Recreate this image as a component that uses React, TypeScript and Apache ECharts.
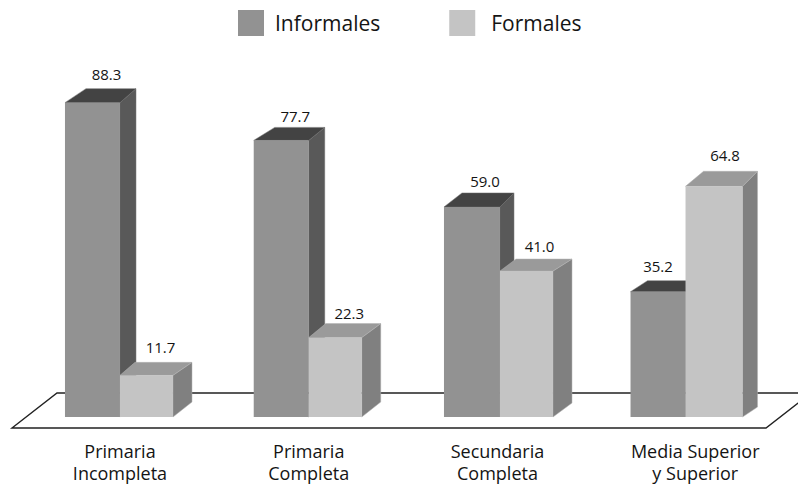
import React, { useEffect, useRef } from "react";
import * as echarts from "echarts";

const categories = [
  "Primaria\nIncompleta",
  "Primaria\nCompleta",
  "Secundaria\nCompleta",
  "Media Superior\ny Superior",
];
const informales = [88.3, 77.7, 59.0, 35.2];
const formales = [11.7, 22.3, 41.0, 64.8];

// Pseudo-3D box shape per group: front width, horizontal depth at the left and
// right edges, and vertical depth at the top and at the foot of the side face.
const informalBox = [
  { w: 55, dl: 21, dr: 16, dt: 14, db: 14 },
  { w: 55, dl: 21, dr: 16, dt: 13, db: 14 },
  { w: 56, dl: 18, dr: 14, dt: 14, db: 14 },
  { w: 55, dl: 17, dr: 14, dt: 11, db: 14 },
];
const formalBox = [
  { w: 53, dl: 15, dr: 19, dt: 13, db: 15 },
  { w: 53, dl: 17, dr: 19, dt: 14, db: 15 },
  { w: 53, dl: 16, dr: 19, dt: 12, db: 14 },
  { w: 57, dl: 18, dr: 15, dt: 15, db: 10 },
];
const groupShift = [0, 0, 2.5, -0.7];
// Value label placement relative to the middle of a box front.
const informalLabel = [[14, -29], [14, -24], [13, -26], [0, -26]];
const formalLabel = [[14, -28], [14, -25], [13, -25], [11, -31]];

const FONT = '"Open Sans", "Noto Sans", sans-serif';
const INK = "#141414";

const boxRenderer =
  (side: "left" | "right", boxes: any[], labels: number[][], colors: any) =>
  (params: any, api: any) => {
    const i = api.value(0);
    const value = api.value(1);
    const box = boxes[i];
    const [cx, yTop] = api.coord([i, value]);
    const [, yBase] = api.coord([i, 0]);
    const seam = cx + groupShift[i];
    const x0 = side === "left" ? seam - box.w : seam;
    const x1 = x0 + box.w;
    const edge = colors.edge;
    return {
      type: "group",
      children: [
        {
          type: "polygon",
          shape: {
            points: [
              [x1, yTop],
              [x1 + box.dr, yTop - box.dt],
              [x1 + box.dr, yBase - box.db],
              [x1, yBase],
            ],
          },
          style: { fill: colors.side, stroke: edge, lineWidth: 0.5 },
        },
        {
          type: "polygon",
          shape: {
            points: [
              [x0, yTop],
              [x0 + box.dl, yTop - box.dt],
              [x1 + box.dr, yTop - box.dt],
              [x1, yTop],
            ],
          },
          style: { fill: colors.top, stroke: edge, lineWidth: 0.5 },
        },
        {
          type: "rect",
          shape: { x: x0, y: yTop, width: box.w, height: yBase - yTop },
          style: { fill: colors.front },
        },
        {
          type: "text",
          style: {
            text: value.toFixed(1),
            x: (x0 + x1) / 2 + labels[i][0],
            y: yTop + labels[i][1],
            align: "center",
            verticalAlign: "middle",
            fill: INK,
            font: `15px ${FONT}`,
          },
        },
      ],
    };
  };

export default function App() {
  const ref = useRef<HTMLDivElement>(null);

  useEffect(() => {
    const chart = echarts.init(ref.current!, null, { renderer: "svg" });
    chart.setOption({
      animation: false,
      backgroundColor: "#ffffff",
      grid: {
        left: 25.6,
        width: 755,
        top: 61,
        height: 356,
        containLabel: false,
        outerBoundsMode: "none",
      },
      legend: {
        left: 238,
        top: 10,
        padding: 0,
        itemWidth: 26,
        itemHeight: 26,
        itemGap: 69,
        selectedMode: false,
        icon: "rect",
        data: [
          { name: "Informales" },
          { name: "Formales", textStyle: { padding: [0, 0, 0, 11] } },
        ],
        textStyle: {
          fontFamily: FONT,
          fontSize: 21,
          color: INK,
          padding: [0, 0, 0, 6],
        },
      },
      xAxis: {
        type: "category",
        data: categories.map((value, i) =>
          i === 3
            ? { value, textStyle: { padding: [0, 0, 0, 18] } }
            : { value }
        ),
        axisLine: { show: false },
        axisTick: { show: false },
        axisLabel: {
          interval: 0,
          margin: 23,
          fontFamily: FONT,
          fontSize: 18,
          lineHeight: 22,
          color: INK,
        },
      },
      yAxis: { type: "value", min: 0, max: 100, show: false },
      graphic: [
        {
          type: "polygon",
          z: 0,
          shape: {
            points: [
              [57, 393],
              [811, 393],
              [766, 428],
              [12, 428],
            ],
          },
          style: { fill: "#ffffff", stroke: "#222222", lineWidth: 1.4 },
        },
      ],
      series: [
        {
          name: "Informales",
          type: "custom",
          z: 3,
          clip: false,
          itemStyle: { color: "#929292" },
          encode: { x: 0, y: 1 },
          data: informales.map((v, i) => [i, v]),
          renderItem: boxRenderer("left", informalBox, informalLabel, {
            front: "#929292",
            side: "#595959",
            top: "#434343",
            edge: "#6e6e6e",
          }),
        },
        {
          name: "Formales",
          type: "custom",
          z: 4,
          clip: false,
          itemStyle: { color: "#c4c4c4" },
          encode: { x: 0, y: 1 },
          data: formales.map((v, i) => [i, v]),
          renderItem: boxRenderer("right", formalBox, formalLabel, {
            front: "#c4c4c4",
            side: "#808080",
            top: "#9a9a9a",
            edge: "#b0b0b0",
          }),
        },
      ],
    });
    return () => chart.dispose();
  }, []);

  return (
    <div
      ref={ref}
      style={{ position: "fixed", left: 0, top: 0, width: 798, height: 484 }}
    />
  );
}
